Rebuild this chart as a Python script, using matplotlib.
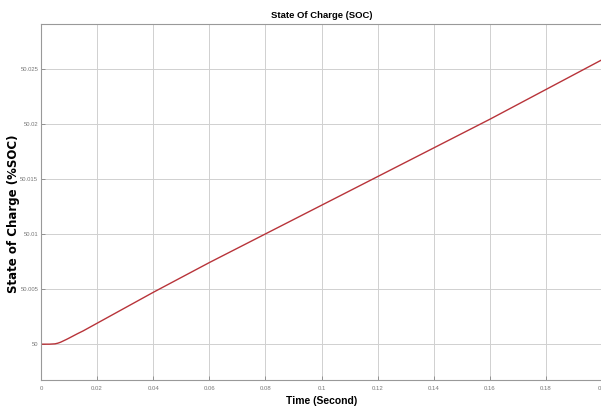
"""State of Charge (SOC) curve, redrawn with matplotlib."""
import matplotlib
matplotlib.use("Agg")
import matplotlib.pyplot as plt

# values
time_s = [0, 0.003, 0.005, 0.006, 0.007, 0.008, 0.009, 0.01, 0.0115, 0.013,
          0.015, 0.0175, 0.02, 0.04, 0.06, 0.08, 0.1, 0.12, 0.14, 0.16,
          0.18, 0.2]
soc = [50.0, 50.0, 50.00003, 50.00009, 50.00018, 50.0003, 50.00042, 50.00055,
       50.00075, 50.00095, 50.0012, 50.00155, 50.0019, 50.0047, 50.0074,
       50.0100, 50.0126, 50.0152, 50.0178, 50.0204, 50.0231, 50.0258]

x_ticks = [0, 0.02, 0.04, 0.06, 0.08, 0.1, 0.12, 0.14, 0.16, 0.18, 0.2]
x_tick_labels = ["0", "0.02", "0.04", "0.06", "0.08", "0.1", "0.12", "0.14",
                 "0.16", "0.18", "0.2"]
y_ticks = [50, 50.005, 50.01, 50.015, 50.02, 50.025]
y_tick_labels = ["50", "50.005", "50.01", "50.015", "50.02", "50.025"]

SANS = ["Liberation Sans", "DejaVu Sans"]


def main():
    fig = plt.figure(figsize=(6.01, 4.12), dpi=100)
    ax = fig.add_axes([41 / 601, 1 - 380 / 412, 561 / 601, (380 - 23.7) / 412])

    ax.plot(time_s, soc, color="#b8343a", linewidth=1.0)

    ax.set_xlim(0, 0.2)
    ax.set_ylim(49.99675, 50.02907)
    ax.set_xticks(x_ticks)
    ax.set_xticklabels(x_tick_labels, family=SANS, fontsize=4.3, color="#777777")
    ax.set_yticks(y_ticks)
    ax.set_yticklabels(y_tick_labels, family=SANS, fontsize=4.2, color="#777777")
    ax.tick_params(length=3, width=0.6, color="#888888", direction="in")
    ax.tick_params(axis="y", pad=2)
    ax.tick_params(axis="x", pad=4)

    ax.grid(True, color="#d0d0d0", linewidth=0.7)
    for side in ax.spines.values():
        side.set_color("#999999")
        side.set_linewidth(0.8)

    ax.set_title("State Of Charge (SOC)", family=SANS, fontweight="bold",
                 fontsize=6.8, pad=4)
    ax.set_xlabel("Time (Second)", family=SANS, fontweight="bold",
                  fontsize=7.5, labelpad=4)
    ax.set_ylabel("State of Charge (%SOC)", family="DejaVu Sans",
                  fontweight="bold", fontsize=8.5)
    # anchor is the label's right edge once rotated
    ax.yaxis.set_label_coords(-0.038, 0.466)

    fig.savefig("out.png", dpi=100)


if __name__ == "__main__":
    main()
